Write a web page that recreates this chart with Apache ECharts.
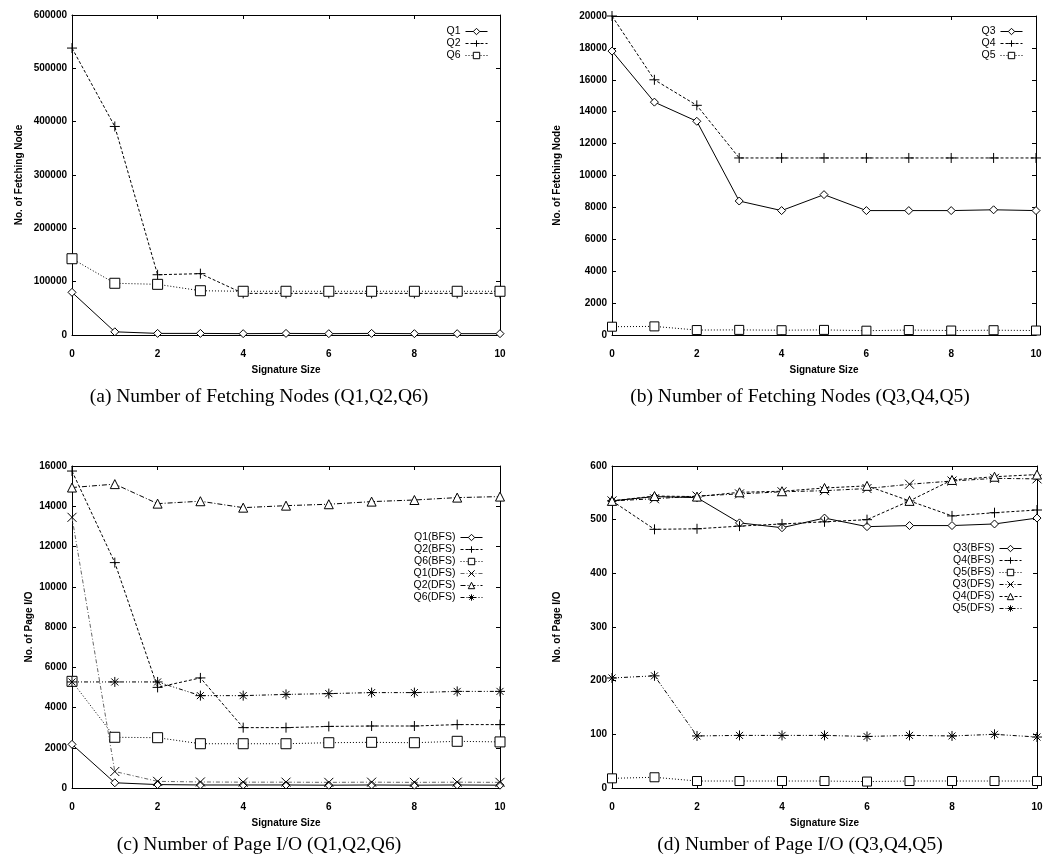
<!DOCTYPE html>
<html>
<head>
<meta charset="utf-8">
<title>Signature size experiments</title>
<script src="https://cdn.jsdelivr.net/npm/echarts@6/dist/echarts.min.js"></script>
<style>
    html, body { margin: 0; padding: 0; background: #fff; }
    #chart { width: 1049px; height: 863px; }
</style>
</head>
<body>
<div id="chart"></div>
<script>
    // x axis: signature size
    var sigSize = [0, 1, 2, 3, 4, 5, 6, 7, 8, 9, 10];

    // (a) fetching nodes Q1, Q2, Q6
    var q1Fetch = [80000, 6000, 3000, 3000, 2500, 3000, 2500, 3000, 2500, 2500, 2500];
    var q2Fetch = [538000, 391000, 113000, 115000, 78000, 78000, 78000, 78000, 78000, 78000, 78000];
    var q6Fetch = [143000, 97000, 95000, 83000, 82000, 82000, 82000, 82000, 82000, 82000, 82000];

    // (b) fetching nodes Q3, Q4, Q5
    var q3Fetch = [17800, 14600, 13400, 8400, 7800, 8800, 7800, 7800, 7800, 7850, 7800];
    var q4Fetch = [20000, 16000, 14400, 11100, 11100, 11100, 11100, 11100, 11100, 11100, 11100];
    var q5Fetch = [520, 540, 310, 320, 300, 320, 270, 310, 280, 300, 280];

    // (c) page I/O Q1, Q2, Q6
    var q1Bfs = [2170, 260, 170, 150, 150, 150, 140, 150, 140, 150, 140];
    var q2Bfs = [15750, 11200, 5000, 5470, 3000, 3000, 3060, 3080, 3080, 3150, 3150];
    var q6Bfs = [5300, 2520, 2500, 2200, 2200, 2200, 2250, 2270, 2250, 2320, 2290];
    var q1Dfs = [13450, 820, 330, 300, 290, 290, 280, 290, 280, 290, 280];
    var q2Dfs = [14930, 15100, 14130, 14250, 13930, 14030, 14100, 14230, 14310, 14430, 14480];
    var q6Dfs = [5270, 5270, 5270, 4590, 4590, 4650, 4690, 4740, 4740, 4800, 4800];

    // (d) page I/O Q3, Q4, Q5
    var q3Bfs = [535, 543, 541, 494, 485, 503, 487, 489, 489, 492, 503];
    var q4Bfs = [535, 482, 483, 488, 492, 496, 500, 535, 507, 513, 518];
    var q5Bfs = [18, 20, 13, 13, 13, 13, 12, 13, 13, 13, 13];
    var q3Dfs = [535, 539, 544, 548, 552, 554, 558, 566, 572, 577, 576];
    var q4Dfs = [535, 544, 543, 551, 553, 559, 563, 535, 574, 580, 584];
    var q5Dfs = [205, 209, 97, 98, 98, 98, 96, 98, 97, 100, 95];

    var xTicks = { min: 0, max: 10, interval: 2 };
    var yMax = [600000, 20000, 16000, 600];
    var yStep = [100000, 2000, 2000, 100];
    var yNames = ['No. of Fetching Node', 'No. of Fetching Node', 'No. of Page I/O', 'No. of Page I/O'];
    var yNameGap = [48, 50, 38, 50];
    var captions = [
        ['(a) Number of Fetching Nodes (Q1,Q2,Q6)', 259, 397],
        ['(b) Number of Fetching Nodes (Q3,Q4,Q5)', 800, 397],
        ['(c) Number of Page I/O (Q1,Q2,Q6)', 259, 845],
        ['(d) Number of Page I/O (Q3,Q4,Q5)', 800, 845]
    ];

    var SANS = '"Liberation Sans", Arial, sans-serif';
    var PLUS = 'path://M5,0L5,10M0,5L10,5';
    var CROSS = 'path://M0,0L10,10M10,0L0,10';
    var STAR = 'path://M5,0L5,10M0,5L10,5M1.5,1.5L8.5,8.5M8.5,1.5L1.5,8.5';

    var grids = [
        { left: 72, top: 15, width: 428, height: 320 },
        { left: 612, top: 16, width: 424, height: 319 },
        { left: 72, top: 466, width: 428, height: 322 },
        { left: 612, top: 466, width: 425, height: 322 }
    ];

    var labelFont = { color: '#000', fontFamily: SANS, fontSize: 10, fontWeight: 'bold' };
    var plain = function (v) { return String(v); };
    var xAxes = [], yAxes = [];
    // main axes (bottom / left) with labels
    for (var i = 0; i < 4; i++) {
        xAxes.push({
            gridIndex: i, type: 'value', min: xTicks.min, max: xTicks.max, interval: xTicks.interval,
            name: 'Signature Size', nameLocation: 'middle', nameGap: 30,
            nameTextStyle: labelFont,
            axisLine: { onZero: false, lineStyle: { color: '#000', width: 1 } },
            axisTick: { inside: true, length: 4, lineStyle: { color: '#000' } },
            axisLabel: Object.assign({ margin: 14, formatter: plain }, labelFont),
            splitLine: { show: false }
        });
        yAxes.push({
            gridIndex: i, type: 'value', min: 0, max: yMax[i], interval: yStep[i],
            name: yNames[i], nameLocation: 'middle', nameGap: yNameGap[i], nameRotate: 90,
            nameTextStyle: labelFont,
            axisLine: { show: true, onZero: false, lineStyle: { color: '#000', width: 1 } },
            axisTick: { show: true, inside: true, length: 4, lineStyle: { color: '#000' } },
            axisLabel: Object.assign({ margin: 5, formatter: plain }, labelFont),
            splitLine: { show: false }
        });
    }
    // mirror axes (top / right), ticks only
    for (var j = 0; j < 4; j++) {
        xAxes.push({
            gridIndex: j, type: 'value', position: 'top', min: xTicks.min, max: xTicks.max, interval: xTicks.interval,
            axisLine: { onZero: false, lineStyle: { color: '#000', width: 1 } },
            axisTick: { inside: true, length: 4, lineStyle: { color: '#000' } },
            axisLabel: { show: false }, splitLine: { show: false }
        });
        yAxes.push({
            gridIndex: j, type: 'value', position: 'right', min: 0, max: yMax[j], interval: yStep[j],
            axisLine: { show: true, onZero: false, lineStyle: { color: '#000', width: 1 } },
            axisTick: { show: true, inside: true, length: 4, lineStyle: { color: '#000' } },
            axisLabel: { show: false }, splitLine: { show: false }
        });
    }

    function line(name, idx, values, symbol, size, dash, color) {
        return {
            name: name, type: 'line', xAxisIndex: idx, yAxisIndex: idx,
            data: sigSize.map(function (x, k) { return [x, values[k]]; }),
            symbol: symbol, symbolSize: size, showAllSymbol: true,
            lineStyle: { color: color || '#000', width: 1, type: dash },
            itemStyle: { color: '#fff', borderColor: '#000', borderWidth: 1 },
            emphasis: { disabled: true },
            z: 3
        };
    }

    var series = [
        line('Q1', 0, q1Fetch, 'diamond', 8, 'solid'),
        line('Q2', 0, q2Fetch, PLUS, 10, [3, 2]),
        line('Q6', 0, q6Fetch, 'rect', 10, [1, 2]),

        line('Q3', 1, q3Fetch, 'diamond', 8, 'solid'),
        line('Q4', 1, q4Fetch, PLUS, 10, [3, 2]),
        line('Q5', 1, q5Fetch, 'rect', 9, [1, 2]),

        line('Q1(BFS)', 2, q1Bfs, 'diamond', 8, 'solid'),
        line('Q2(BFS)', 2, q2Bfs, PLUS, 10, [3, 2]),
        line('Q6(BFS)', 2, q6Bfs, 'rect', 10, [1, 2]),
        line('Q1(DFS)', 2, q1Dfs, CROSS, 9, [4, 2, 1, 2], '#666'),
        line('Q2(DFS)', 2, q2Dfs, 'triangle', 9, [5, 2, 1, 2]),
        line('Q6(DFS)', 2, q6Dfs, STAR, 10, [4, 2, 1, 2, 1, 2]),

        line('Q3(BFS)', 3, q3Bfs, 'diamond', 8, 'solid'),
        line('Q4(BFS)', 3, q4Bfs, PLUS, 10, [3, 2]),
        line('Q5(BFS)', 3, q5Bfs, 'rect', 9, [1, 2]),
        line('Q3(DFS)', 3, q3Dfs, CROSS, 9, [4, 2, 1, 2]),
        line('Q4(DFS)', 3, q4Dfs, 'triangle', 9, [3, 2]),
        line('Q5(DFS)', 3, q5Dfs, STAR, 10, [4, 2, 1, 2, 1, 2])
    ];

    function legend(names, right, top) {
        return {
            data: names, orient: 'vertical', right: right, top: top, align: 'right', padding: 0,
            itemWidth: 22, itemHeight: 8, itemGap: 1,
            itemStyle: { color: '#fff', borderColor: '#000', borderWidth: 1 },
            lineStyle: { width: 1 },
            textStyle: { color: '#000', fontFamily: SANS, fontSize: 10.5, lineHeight: 9 },
            selectedMode: false
        };
    }

    var chart = echarts.init(document.getElementById('chart'));
    chart.setOption({
        animation: false,
        backgroundColor: '#fff',
        grid: grids,
        xAxis: xAxes,
        yAxis: yAxes,
        legend: [
            legend(['Q1', 'Q2', 'Q6'], 561, 26),
            legend(['Q3', 'Q4', 'Q5'], 26, 26),
            legend(['Q1(BFS)', 'Q2(BFS)', 'Q6(BFS)', 'Q1(DFS)', 'Q2(DFS)', 'Q6(DFS)'], 566, 532),
            legend(['Q3(BFS)', 'Q4(BFS)', 'Q5(BFS)', 'Q3(DFS)', 'Q4(DFS)', 'Q5(DFS)'], 27, 543)
        ],
        graphic: captions.map(function (c) {
            return {
                type: 'text', x: c[1], y: c[2],
                style: {
                    text: c[0], textAlign: 'center', textVerticalAlign: 'middle',
                    font: '19.5px "Liberation Serif", "Times New Roman", serif', fill: '#000'
                }
            };
        }),
        series: series
    });
</script>
</body>
</html>
